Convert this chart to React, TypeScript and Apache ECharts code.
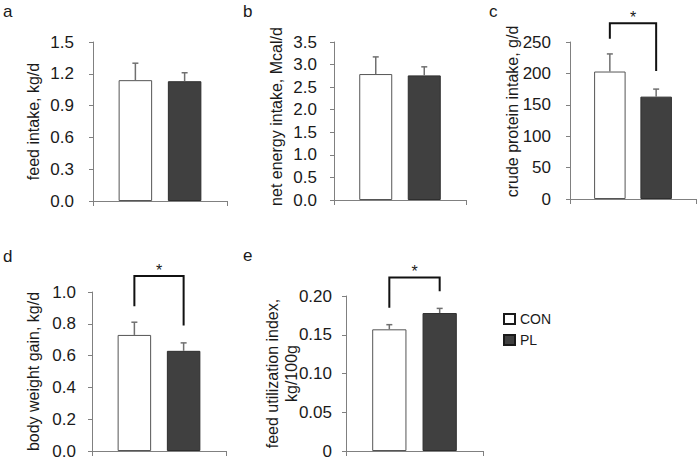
import React, { useEffect, useRef } from "react";
import * as echarts from "echarts";

// ---- data ----
const groups = ["CON", "PL"];
const panelLetters = ["a", "b", "c", "d", "e"];
const yNames = [
  "feed intake, kg/d",
  "net energy intake, Mcal/d",
  "crude protein intake, g/d",
  "body weight gain, kg/d",
  "feed utilization index,\nkg/100g",
];
const conMeans = [1.14, 2.79, 203, 0.73, 0.157];
const plMeans = [1.13, 2.76, 163, 0.63, 0.178];
const conSE = [0.16, 0.38, 28, 0.08, 0.006];
const plSE = [0.08, 0.19, 12, 0.05, 0.006];
const yMax = [1.5, 3.5, 250, 1.0, 0.2];
const yStep = [0.3, 0.5, 50, 0.2, 0.05];
const yDecimals = [1, 1, 0, 1, 2];
// significance brackets
const sigPanels = [2, 3, 4];
const sigTop = [280, 1.1, 0.224];
const sigLeftEnd = [255, 0.91, 0.185];
const sigRightEnd = [204, 0.79, 0.206];
const sigMarks = ["*", "*", "*"];

// ---- layout / styles ----
const FONT = "'Liberation Sans', Arial, sans-serif";
const TEXT = "#1a1a1a";
const AXIS = "#808080";
const BAR_W = 0.25;
const BAR_GAP = 0.47;
const layout = [
  { left: 93, top: 42, width: 134, height: 159, nameGap: 50, pad: 0, margin: 19, lx: 3, ly: 12.5 },
  { left: 334, top: 42, width: 132, height: 158, nameGap: 48, pad: 9, margin: 17, lx: 243, ly: 12.5 },
  { left: 570, top: 42, width: 126, height: 157, nameGap: 48, pad: 18, margin: 19, lx: 489, ly: 12.5 },
  { left: 92, top: 292, width: 134, height: 159, nameGap: 49, pad: 0, margin: 16, lx: 3, ly: 258 },
  { left: 346, top: 296, width: 137, height: 155, nameGap: 45, pad: 0, margin: 14, lx: 243, ly: 257 },
];

function barOffset(api: any) {
  const band = api.size([1, 0])[0];
  return (band * BAR_W * (1 + BAR_GAP)) / 2;
}

export default function App() {
  const ref = useRef<HTMLDivElement>(null);
  useEffect(() => {
    if (!ref.current) return;
    const chart = echarts.init(ref.current, null, { renderer: "svg" });
    const grid: any[] = [];
    const xAxis: any[] = [];
    const yAxis: any[] = [];
    const series: any[] = [];
    const graphic: any[] = [];

    layout.forEach((L, i) => {
      grid.push({ left: L.left, top: L.top, width: L.width, height: L.height, containLabel: false });
      xAxis.push({
        type: "category",
        gridIndex: i,
        data: ["g"],
        axisLine: { lineStyle: { color: AXIS, width: 1 } },
        axisTick: { show: true, length: 5, lineStyle: { color: AXIS } },
        axisLabel: { show: false },
      });
      const dec = yDecimals[i];
      yAxis.push({
        type: "value",
        gridIndex: i,
        min: 0,
        max: yMax[i],
        interval: yStep[i],
        name: yNames[i],
        nameLocation: "middle",
        nameRotate: 90,
        nameGap: L.nameGap,
        nameMoveOverlap: false,
        nameTextStyle: {
          fontFamily: FONT,
          fontSize: 16,
          color: TEXT,
          lineHeight: 19,
          padding: [0, 0, 0, L.pad],
        },
        splitLine: { show: false },
        axisLine: { show: true, lineStyle: { color: AXIS, width: 1 } },
        axisTick: { show: true, length: 4, lineStyle: { color: AXIS } },
        axisLabel: {
          fontFamily: FONT,
          fontSize: 17,
          color: TEXT,
          margin: L.margin,
          formatter: (v: number) => (v === 0 ? (dec === 2 || dec === 0 ? "0" : (0).toFixed(dec)) : v.toFixed(dec)),
        },
      });
      series.push({
        name: groups[0],
        type: "bar",
        xAxisIndex: i,
        yAxisIndex: i,
        barWidth: BAR_W * 100 + "%",
        barGap: BAR_GAP * 100 + "%",
        data: [conMeans[i]],
        itemStyle: { color: "#ffffff", borderColor: "#555555", borderWidth: 1 },
      });
      series.push({
        name: groups[1],
        type: "bar",
        xAxisIndex: i,
        yAxisIndex: i,
        barWidth: BAR_W * 100 + "%",
        barGap: BAR_GAP * 100 + "%",
        data: [plMeans[i]],
        itemStyle: { color: "#404040", borderColor: "#2e2e2e", borderWidth: 1 },
      });
      // error bars
      series.push({
        type: "custom",
        xAxisIndex: i,
        yAxisIndex: i,
        silent: true,
        z: 5,
        data: [
          [0, conMeans[i], conMeans[i] + conSE[i], 0],
          [0, plMeans[i], plMeans[i] + plSE[i], 1],
        ],
        encode: { x: 0, y: 2 },
        renderItem: (params: any, api: any) => {
          const off = barOffset(api);
          const c = api.coord([api.value(0), api.value(1)]);
          const t = api.coord([api.value(0), api.value(2)]);
          const x = c[0] + (api.value(3) === 0 ? -off : off);
          const st = { stroke: "#707070", lineWidth: 1.5 };
          return {
            type: "group",
            children: [
              { type: "line", shape: { x1: x, y1: c[1], x2: x, y2: t[1] }, style: st },
              { type: "line", shape: { x1: x - 3, y1: t[1], x2: x + 3, y2: t[1] }, style: st },
            ],
          };
        },
      });
      graphic.push({
        type: "text",
        left: L.lx,
        top: L.ly - 10,
        style: { text: panelLetters[i], fontFamily: FONT, fontSize: 17, fill: TEXT },
      });
    });

    sigPanels.forEach((p, k) => {
      series.push({
        type: "custom",
        xAxisIndex: p,
        yAxisIndex: p,
        silent: true,
        clip: false,
        z: 6,
        data: [[0, sigTop[k], sigLeftEnd[k], sigRightEnd[k]]],
        encode: { x: 0, y: 1 },
        renderItem: (params: any, api: any) => {
          const off = barOffset(api);
          const top = api.coord([api.value(0), api.value(1)]);
          const yl = api.coord([api.value(0), api.value(2)])[1];
          const yr = api.coord([api.value(0), api.value(3)])[1];
          const xl = top[0] - off;
          const xr = top[0] + off;
          return {
            type: "group",
            children: [
              {
                type: "polyline",
                shape: { points: [[xl, yl], [xl, top[1]], [xr, top[1]], [xr, yr]] },
                style: { stroke: "#111111", lineWidth: 2, fill: null },
              },
              {
                type: "text",
                style: {
                  text: sigMarks[k],
                  x: top[0],
                  y: top[1] - 6,
                  align: "center",
                  verticalAlign: "middle",
                  fontFamily: FONT,
                  fontSize: 16,
                  fill: TEXT,
                },
              },
            ],
          };
        },
      });
    });

    chart.setOption({
      animation: false,
      backgroundColor: "#ffffff",
      textStyle: { fontFamily: FONT },
      grid,
      xAxis,
      yAxis,
      series,
      graphic,
      legend: {
        data: groups,
        orient: "vertical",
        left: 503,
        top: 312,
        padding: 0,
        icon: "rect",
        itemWidth: 11,
        itemHeight: 10,
        itemGap: 7,
        itemStyle: { borderColor: "#1a1a1a", borderWidth: 2 },
        textStyle: { fontFamily: FONT, fontSize: 14, color: TEXT, lineHeight: 14 },
      },
    });
    return () => chart.dispose();
  }, []);
  return (
    <div
      ref={ref}
      style={{ position: "fixed", left: 0, top: 0, width: 700, height: 461, background: "#fff" }}
    />
  );
}
